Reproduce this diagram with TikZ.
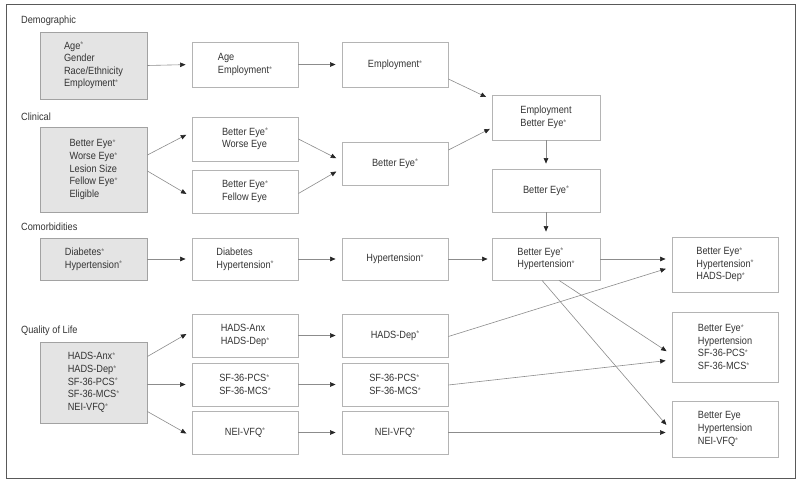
\documentclass[tikz,border=0pt]{standalone}
\usepackage{fontspec}
\setmainfont[FakeStretch=0.88]{Liberation Sans}
\usetikzlibrary{arrows.meta, positioning, calc}
\definecolor{boxline}{HTML}{B4B4B4}
\definecolor{boxfill}{HTML}{E4E4E4}
\definecolor{inkgray}{HTML}{333333}
\definecolor{linkgray}{HTML}{8C8C8C}
\newcommand{\signif}{\raisebox{1.2bp}{\fontsize{8.5}{8.5}\selectfont\color{black!55}*}}
\tikzset{
  box/.style={draw=boxline, line width=0.8bp, fill=white, minimum width=106bp, minimum height=43bp,
    align=left, inner sep=2bp, text=inkgray, font=\fontsize{10.5}{12.7}\selectfont},
  shaded/.style={box, fill=boxfill, draw=boxline!90!black, minimum width=107bp},
  grouplabel/.style={anchor=west, text=inkgray, inner sep=0pt, font=\fontsize{10.5}{12}\selectfont},
  link/.style={draw=linkgray, line width=0.6bp, -{Triangle[length=5.5bp,width=4.5bp,color=black!85]}, shorten >=6bp},
}

\begin{document}
\begin{tikzpicture}[x=1bp,y=-1bp]
\useasboundingbox[fill=white] (0,0) rectangle (800,482);
\draw[draw=black!65, line width=0.8bp] (6,4) rectangle (795,478);

% Demographic
\node[grouplabel] (demolabel) at (21,21) {Demographic};
\node[shaded, minimum height=67bp] (demo) at (93.5,65.5) {Age\signif\\Gender\\Race/Ethnicity\\Employment\signif};
\node[box, minimum height=45bp] (ageemp) at (245,64.5) {Age\\Employment\signif};
\node[box, minimum height=45bp] (emp) at (395,64.5) {Employment\signif};

% Clinical
\node[grouplabel] (clinlabel) at (21,117) {Clinical};
\node[shaded, minimum height=85bp] (clin) at (93.5,169.5) {Better Eye\signif\\Worse Eye\signif\\Lesion Size\\Fellow Eye\signif\\Eligible};
\node[box, minimum height=44bp] (bewe) at (245,139) {Better Eye\signif\\Worse Eye};
\node[box] (befe) at (245,191.5) {Better Eye\signif\\Fellow Eye};
\node[box] (be) at (395,163.5) {Better Eye\signif};

% middle column
\node[box, minimum width=108bp, minimum height=45bp] (empbe) at (546,117.5) {Employment\\Better Eye\signif};
\node[box, minimum width=108bp] (be2) at (546,190.5) {Better Eye\signif};
\node[box, minimum width=108bp, minimum height=42bp] (behyp) at (546,259) {Better Eye\signif\\Hypertension\signif};

% Comorbidities
\node[grouplabel] (comolabel) at (21,227) {Comorbidities};
\node[shaded, minimum height=42bp] (como) at (93.5,259) {Diabetes\signif\\Hypertension\signif};
\node[box, minimum height=42bp] (diahyp) at (245,259) {Diabetes\\Hypertension\signif};
\node[box, minimum height=42bp] (hyp) at (395,259) {Hypertension\signif};

% Quality of Life
\node[grouplabel] (qollabel) at (21,331) {Quality of Life};
\node[shaded, minimum height=81bp] (qol) at (93.5,382.5) {HADS-Anx\signif\\HADS-Dep\signif\\SF-36-PCS\signif\\SF-36-MCS\signif\\NEI-VFQ\signif};
\node[box] (hads) at (245,335.5) {HADS-Anx\\HADS-Dep\signif};
\node[box] (sf) at (245,384.5) {SF-36-PCS\signif\\SF-36-MCS\signif};
\node[box] (nei) at (245,432.5) {NEI-VFQ\signif};
\node[box] (hadsdep) at (395,335.5) {HADS-Dep\signif};
\node[box] (sf2) at (395,384.5) {SF-36-PCS\signif\\SF-36-MCS\signif};
\node[box] (nei2) at (395,432.5) {NEI-VFQ\signif};

% final models
\node[box, minimum height=55bp] (outA) at (725,264.5) {Better Eye\signif\\Hypertension\signif\\HADS-Dep\signif};
\node[box, minimum height=70bp] (outB) at (725,347) {Better Eye\signif\\Hypertension\\SF-36-PCS\signif\\SF-36-MCS\signif};
\node[box, minimum height=56bp] (outC) at (725,429) {Better Eye\\Hypertension\\NEI-VFQ\signif};

% connectors
\draw[link] (demo.east) -- (ageemp.west);
\draw[link] (ageemp.east) -- (emp.west);
\draw[link] ($(emp.east)+(0,14.5)$) -- ($(empbe.north west)+(0,5)$);
\draw[link, shorten >=2bp] ($(be.east)+(0,-13.5)$) -- ($(empbe.west)+(0,10.5)$);
\draw[link, shorten >=5bp] (empbe.south) -- (be2.north);
\draw[link] (be2.south) -- (behyp.north);

\draw[link] ($(clin.east)+(0,-14.5)$) -- ($(bewe.west)+(0,-7)$);
\draw[link] ($(clin.east)+(0,1.5)$) -- ($(befe.west)+(0,5.5)$);
\draw[link] (bewe.east) -- ($(be.west)+(0,-2.5)$);
\draw[link] ($(befe.east)+(0,2)$) -- ($(be.west)+(0,5)$);

\draw[link] (como.east) -- (diahyp.west);
\draw[link] (diahyp.east) -- (hyp.west);
\draw[link, shorten >=4bp] (hyp.east) -- (behyp.west);

\draw[link] (qol.east |- sf.west) -- (sf.west);
\draw[link] ($(qol.east)+(0,-26)$) -- ($(hads.west)+(0,-4.5)$);
\draw[link] ($(qol.east)+(0,29)$) -- ($(nei.west)+(0,4)$);
\draw[link] (hads.east) -- (hadsdep.west);
\draw[link] (sf.east) -- (sf2.west);
\draw[link] (nei.east) -- (nei2.west);

\draw[link] (behyp.east) -- ($(outA.west)+(0,-5.5)$);
\draw[link] ($(hadsdep.east)+(0,1)$) -- ($(outA.west)+(0,2.5)$);
\draw[link] ($(behyp.south)+(13,0)$) -- ($(outB.west)+(0,7.5)$);
\draw[link] ($(sf2.east)+(0,0.5)$) -- ($(outB.west)+(0,13)$);
\draw[link, shorten >=8bp] ($(behyp.south)+(-4,0)$) -- ($(outC.west)+(0,2)$);
\draw[link] (nei2.east) -- (nei2.east -| outC.west);
\end{tikzpicture}
\end{document}
